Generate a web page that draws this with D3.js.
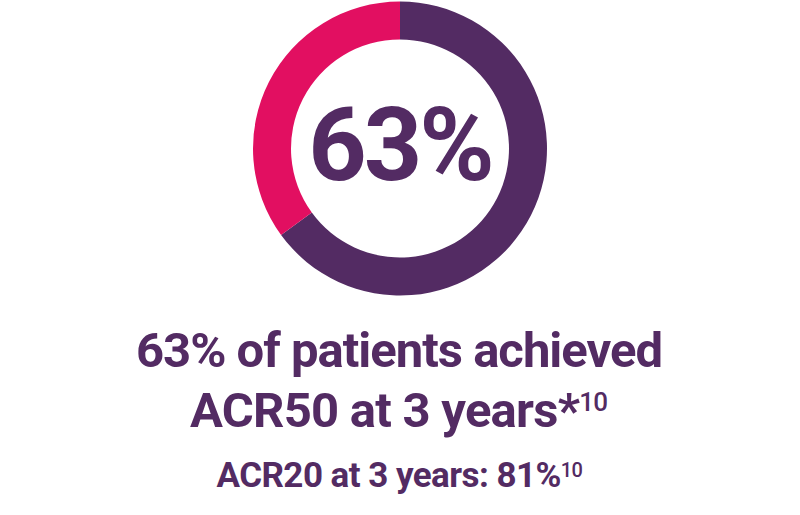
<!DOCTYPE html>
<html><head><meta charset="utf-8">
<script src="https://cdn.jsdelivr.net/npm/d3@7"></script>
<style>html,body{margin:0;padding:0;background:#fff}svg{display:block}</style>
</head><body><div id="chart"></div>
<script>
const categories = ["Achieved ACR50", "Not achieved"];
const values = [65, 35];
const colors = ["#532b63", "#e20f61"];
const centerLabel = "63%";
const titleLines = ["63% of patients achieved", "ACR50 at 3 years*"];
const titleSup = "10";
const subText = "ACR20 at 3 years: 81%";
const subSup = "10";

const W = 800, H = 515;
const svg = d3.select("#chart").append("svg").attr("width", W).attr("height", H);
const cx = 400, cy = 148.5, rOuter = 147, rInner = 109;
const purple = "#532b63";

const pie = d3.pie().sort(null).value(d => d)(values);
const arc = d3.arc().innerRadius(rInner).outerRadius(rOuter);
const g = svg.append("g").attr("transform", `translate(${cx},${cy})`);
g.selectAll("path").data(pie).join("path").attr("d", arc).attr("fill", (d, i) => colors[i]);

const font = "Roboto, 'Noto Sans', sans-serif";
svg.append("text").attr("x", cx).attr("y", 180).attr("text-anchor", "middle")
  .attr("font-family", font).attr("font-weight", 700).attr("font-size", 102)
  .attr("fill", purple).attr("letter-spacing", -3).text(centerLabel);

function line(y, size, txt, sup, supSize, supDy, left, right) {
  const t = svg.append("text").attr("x", (left + right) / 2).attr("y", y).attr("text-anchor", "middle")
    .attr("font-family", font).attr("font-weight", 700).attr("font-size", size).attr("fill", purple);
  t.append("tspan").text(txt);
  if (sup) t.append("tspan").attr("font-size", supSize).attr("dy", supDy).attr("font-weight", 500).text(sup);
  const n = (txt + (sup || "")).length;
  const w = t.node().getBBox().width;
  const ls = (right - left - w) / (n - 1);
  t.attr("letter-spacing", ls).attr("x", (left + right) / 2 + ls / 2);
  return t;
}
line(366.5, 49, titleLines[0], null, 0, 0, 136, 663);
line(427, 49, titleLines[1], titleSup, 26, -16, 190, 608);
line(486.5, 35, subText, subSup, 20, -10, 216.5, 583);
</script></body></html>
